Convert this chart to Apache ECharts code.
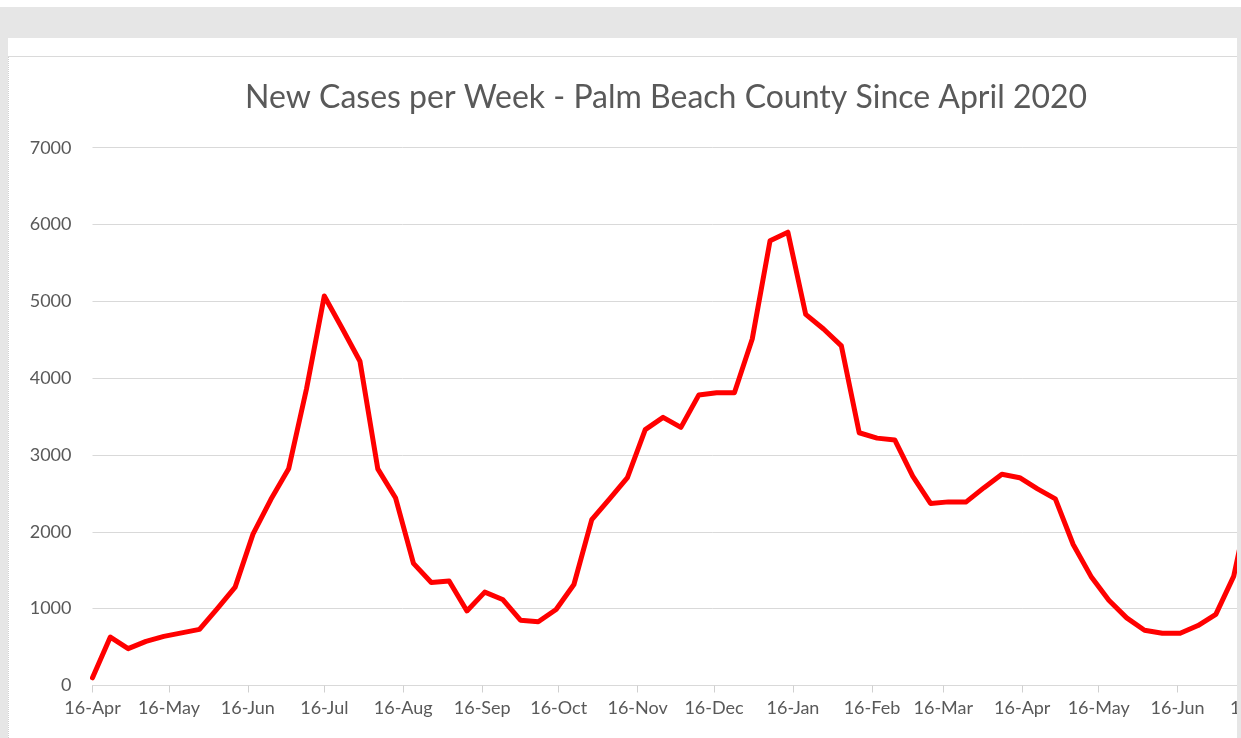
<!DOCTYPE html>
<html>
<head>
<meta charset="utf-8">
<script src="https://cdn.jsdelivr.net/npm/echarts@6/dist/echarts.min.js"></script>
<style>
  html, body { margin: 0; padding: 0; background: #fff; width: 1241px; height: 738px; overflow: hidden; }
  #topband { position: absolute; left: 0; top: 7px; width: 1241px; height: 31px; background: #e6e6e6; }
  #leftband { position: absolute; left: 0; top: 38px; width: 8px; height: 700px; background: #e6e6e6; }
  #rightband { position: absolute; left: 1237px; top: 38px; width: 4px; height: 700px; background: #e6e6e6; z-index: 2; }
  #sep { position: absolute; left: 8px; top: 56px; width: 1229px; height: 1px; background: #dadada; }
  #clip { position: absolute; left: 8px; top: 57px; width: 1229px; height: 681px; overflow: hidden; border-left: 1px dotted #cfcfcf; box-sizing: border-box; }
  #container { position: absolute; left: -1px; top: 0; width: 1325px; height: 681px; }
</style>
</head>
<body>
<div id="topband"></div>
<div id="leftband"></div>
<div id="rightband"></div>
<div id="sep"></div>
<div id="clip"><div id="container"></div></div>
<script>
// weekly report dates (Thursdays)
var weeks = [
  "2020-04-16", "2020-04-23", "2020-04-30", "2020-05-07", "2020-05-14", "2020-05-21", "2020-05-28",
  "2020-06-04", "2020-06-11", "2020-06-18", "2020-06-25", "2020-07-02", "2020-07-09", "2020-07-16",
  "2020-07-23", "2020-07-30", "2020-08-06", "2020-08-13", "2020-08-20", "2020-08-27", "2020-09-03",
  "2020-09-10", "2020-09-17", "2020-09-24", "2020-10-01", "2020-10-08", "2020-10-15", "2020-10-22",
  "2020-10-29", "2020-11-05", "2020-11-12", "2020-11-19", "2020-11-26", "2020-12-03", "2020-12-10",
  "2020-12-17", "2020-12-24", "2020-12-31", "2021-01-07", "2021-01-14", "2021-01-21", "2021-01-28",
  "2021-02-04", "2021-02-11", "2021-02-18", "2021-02-25", "2021-03-04", "2021-03-11", "2021-03-18",
  "2021-03-25", "2021-04-01", "2021-04-08", "2021-04-15", "2021-04-22", "2021-04-29", "2021-05-06",
  "2021-05-13", "2021-05-20", "2021-05-27", "2021-06-03", "2021-06-10", "2021-06-17", "2021-06-24",
  "2021-07-01", "2021-07-08", "2021-07-15"
];

var newCases = [
  100, 630, 480, 575, 640, 685, 730,
  1000, 1280, 1970, 2420, 2820, 3860, 5070,
  4650, 4220, 2820, 2440, 1590, 1340, 1360,
  970, 1215, 1120, 850, 830, 990, 1315,
  2160, 2430, 2705, 3330, 3490, 3360, 3780,
  3810, 3810, 4510, 5790, 5900, 4830, 4640,
  4420, 3290, 3220, 3195, 2725, 2370, 2390,
  2390, 2575, 2750, 2705, 2560, 2430, 1835,
  1420, 1110, 880, 720, 680, 680, 780,
  925, 1420, 2500
];

// x axis tick dates (16th of each month)
var tickDates = [
  "2020-04-16", "2020-05-16", "2020-06-16", "2020-07-16", "2020-08-16", "2020-09-16",
  "2020-10-16", "2020-11-16", "2020-12-16", "2021-01-16", "2021-02-16", "2021-03-16",
  "2021-04-16", "2021-05-16", "2021-06-16", "2021-07-16"
];
var monthNames = ["Jan", "Feb", "Mar", "Apr", "May", "Jun", "Jul", "Aug", "Sep", "Oct", "Nov", "Dec"];

var yTicks = [0, 1000, 2000, 3000, 4000, 5000, 6000, 7000];

function toTime(s) {
  var p = s.split("-");
  return Date.UTC(+p[0], +p[1] - 1, +p[2]);
}

var seriesData = weeks.map(function (d, i) {
  return [toTime(d), newCases[i]];
});
var tickValues = tickDates.map(toTime);

var dom = document.getElementById("container");
var myChart = echarts.init(dom);
var textColor = "#595959";
var font = "Lato, 'Noto Sans', sans-serif";

var option = {
  animation: false,
  backgroundColor: "#fff",
  title: {
    text: "New Cases per Week - Palm Beach County Since April 2020",
    left: 232,
    top: 20,
    textStyle: {
      fontFamily: font,
      fontSize: 32,
      fontWeight: "normal",
      color: textColor,
    },
  },
  grid: {
    left: 84.5,
    top: 90.7,
    bottom: 52.5,
    right: 0,
  },
  xAxis: {
    type: "value",
    min: toTime("2020-04-16"),
    max: toTime("2021-08-16"),
    axisLine: { show: true, onZero: false, lineStyle: { color: "#d9d9d9", width: 1 } },
    axisTick: {
      show: true,
      length: 7,
      lineStyle: { color: "#d0d0d0" },
      customValues: tickValues,
    },
    axisLabel: {
      customValues: tickValues,
      margin: 14,
      color: textColor,
      fontFamily: font,
      fontSize: 18,
      formatter: function (val) {
        var d = new Date(val);
        return d.getUTCDate() + "-" + monthNames[d.getUTCMonth()];
      },
    },
    splitLine: { show: false },
  },
  yAxis: {
    type: "value",
    min: yTicks[0],
    max: yTicks[yTicks.length - 1],
    interval: 1000,
    axisLine: { show: false },
    axisTick: { show: false },
    axisLabel: {
      margin: 21,
      color: textColor,
      fontFamily: font,
      fontSize: 18,
      formatter: function (v) { return String(v); },
    },
    splitLine: { lineStyle: { color: "#d9d9d9", width: 1 } },
  },
  series: [
    {
      name: "New Cases",
      type: "line",
      data: seriesData,
      showSymbol: false,
      smooth: false,
      lineStyle: { color: "#ff0000", width: 5, cap: "round", join: "round" },
    },
  ],
};

if (option && typeof option === "object") {
  myChart.setOption(option);
}
</script>
</body>
</html>
